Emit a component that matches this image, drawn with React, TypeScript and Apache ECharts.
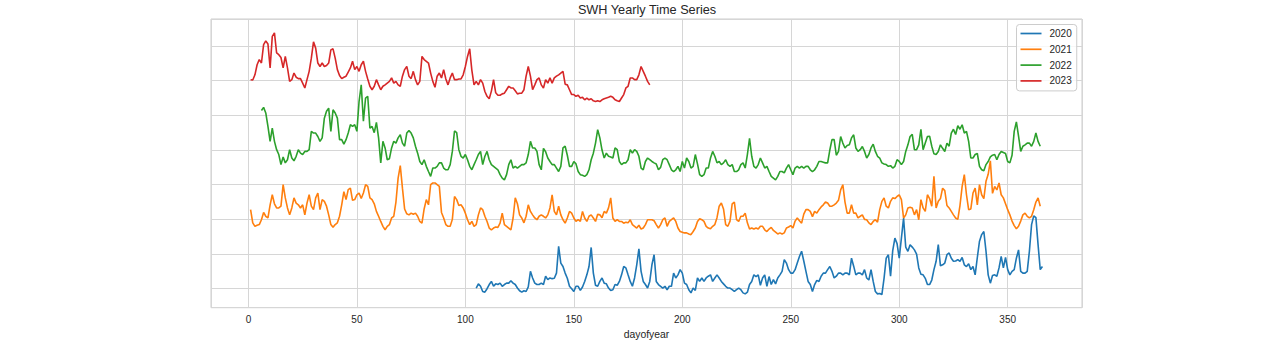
import React, { useEffect, useRef } from "react";
import * as echarts from "echarts";

// ---- data (values in plot units; day-of-year on x) ----
const years = ["2020", "2021", "2022", "2023"];
const colors = ["#1f77b4", "#ff7f0e", "#2ca02c", "#d62728"];
const xTickLabels = [0, 50, 100, 150, 200, 250, 300, 350];

const start2020 = 105;
const swh2020 = [
  0.02, 0.14, 0.07, -0.08, -0.10, 0.00, 0.12, 0.21, 0.07, 0.14,
  0.12, 0.16, 0.07, 0.12, 0.16, 0.16, 0.23, 0.16, 0.12, 0.02,
  -0.06, -0.10, -0.06, -0.08, 0.05, 0.50, 0.31, 0.16, 0.12, 0.12,
  0.16, 0.12, 0.36, 0.26, 0.31, 0.29, 0.30, 0.45, 1.22, 0.74,
  0.64, 0.45, 0.30, 0.07, 0.00, -0.08, 0.07, 0.07, -0.05, 0.05,
  0.21, 0.40, 0.64, 1.19, 0.45, 0.10, 0.07, 0.21, 0.31, 0.16,
  0.14, 0.02, -0.05, -0.03, 0.12, 0.10, 0.21, 0.40, 0.64, 0.60,
  0.40, 0.21, 0.07, 0.31, 0.69, 1.15, 0.50, 0.21, 0.12, 0.02,
  0.21, 0.69, 0.98, 0.21, 0.12, 0.07, 0.02, 0.07, -0.03, 0.07,
  0.07, 0.45, 0.31, 0.40, 0.55, 0.45, 0.16, 0.12, -0.03, -0.12,
  0.02, -0.05, 0.31, 0.21, 0.31, 0.21, 0.31, 0.36, 0.40, 0.21,
  0.31, 0.40, 0.31, 0.21, 0.14, 0.07, 0.02, 0.02, -0.03, -0.08,
  -0.03, 0.02, -0.03, -0.12, -0.15, -0.10, 0.12, 0.21, 0.40, 0.35,
  0.40, 0.10, 0.31, 0.40, 0.07, 0.35, 0.12, 0.26, 0.14, 0.31,
  0.40, 0.50, 0.84, 0.74, 0.55, 0.45, 0.45, 0.55, 0.74, 0.93,
  1.08, 0.80, 0.50, 0.21, 0.12, -0.08, 0.12, 0.24, 0.21, 0.36,
  0.45, 0.45, 0.55, 0.64, 0.50, 0.31, 0.36, 0.45, 0.45, 0.40,
  0.45, 0.45, 0.40, 0.88, 0.65, 0.40, 0.45, 0.45, 0.40, 0.55,
  0.31, 0.25, 0.55, 0.21, -0.08, -0.15, -0.14, -0.17, 0.30, 0.88,
  0.98, 0.36, 1.10, 1.46, 1.30, 0.88, 1.46, 2.04, 1.20, 1.08,
  1.27, 1.20, 1.12, 1.00, 0.60, 0.42, 0.40, 0.30, 0.12, 0.12,
  0.25, 0.55, 0.79, 1.27, 0.66, 0.69, 0.74, 0.98, 1.03, 0.88,
  0.79, 0.80, 0.84, 0.79, 0.90, 0.69, 0.64, 0.72, 0.55, 0.64,
  0.40, 0.90, 1.37, 1.56, 1.65, 1.08, 0.40, 0.16, 0.38, 0.40,
  0.36, 0.60, 0.93, 0.60, 0.90, 0.55, 0.40, 0.50, 0.55, 0.88,
  1.12, 0.50, 0.45, 0.45, 0.50, 1.08, 1.85, 2.10, 2.05, 1.27,
  0.55, 0.64,
];

const start2021 = 1;
const swh2021 = [
  2.28, 1.90, 1.80, 1.83, 1.85, 1.99, 2.20, 2.09, 2.04, 2.42,
  2.71, 2.45, 2.33, 2.33, 2.38, 3.00, 2.62, 2.33, 2.13, 2.33,
  2.62, 2.47, 2.42, 2.33, 2.42, 2.13, 2.47, 2.71, 2.38, 2.28,
  2.62, 2.76, 2.28, 2.57, 2.52, 2.38, 2.13, 1.85, 1.77, 1.85,
  1.90, 2.09, 2.42, 2.80, 2.57, 2.86, 2.90, 2.55, 2.57, 2.71,
  2.76, 2.60, 2.76, 3.00, 2.95, 2.62, 2.57, 2.45, 2.23, 2.09,
  1.94, 1.80, 1.70, 1.80, 1.85, 2.04, 2.09, 2.50, 3.19, 3.55,
  2.90, 2.30, 2.16, 2.13, 2.18, 2.15, 2.18, 2.09, 1.94, 1.89,
  2.30, 2.57, 2.42, 3.00, 3.05, 3.05, 3.00, 2.95, 2.20, 2.04,
  1.85, 1.80, 1.80, 2.00, 2.66, 2.57, 2.40, 2.42, 2.33, 2.18,
  1.99, 1.85, 1.94, 1.80, 1.85, 2.13, 2.33, 2.28, 2.09, 1.94,
  1.75, 1.70, 1.75, 1.78, 1.77, 1.89, 2.18, 1.85, 1.80, 1.75,
  1.70, 2.04, 2.62, 2.45, 2.13, 2.04, 1.90, 2.09, 2.42, 2.23,
  2.13, 2.04, 1.99, 2.09, 2.13, 2.09, 2.04, 2.13, 2.33, 2.71,
  2.23, 2.13, 2.38, 2.13, 1.99, 1.89, 2.04, 2.23, 2.18, 2.04,
  1.94, 1.99, 1.94, 2.23, 2.04, 1.94, 2.09, 2.13, 2.04, 1.94,
  2.15, 2.13, 2.05, 2.23, 2.18, 2.33, 2.62, 2.04, 1.94, 1.99,
  1.94, 1.94, 1.89, 1.92, 1.90, 1.99, 1.85, 1.80, 1.75, 1.83,
  1.72, 1.75, 1.85, 1.99, 1.99, 1.99, 1.96, 1.85, 1.75, 1.85,
  1.99, 2.04, 1.80, 1.94, 1.99, 2.04, 1.94, 1.75, 1.65, 1.63,
  1.61, 1.61, 1.58, 1.56, 1.65, 1.75, 1.94, 2.02, 1.99, 1.94,
  1.80, 1.75, 1.73, 1.80, 1.85, 2.05, 2.38, 2.47, 2.30, 1.85,
  1.80, 1.95, 2.45, 2.50, 1.99, 1.94, 2.09, 2.09, 2.18, 1.90,
  1.72, 1.75, 1.72, 1.75, 1.72, 1.80, 1.80, 1.70, 1.65, 1.72,
  1.77, 1.68, 1.63, 1.58, 1.61, 1.58, 1.61, 1.75, 1.78, 1.82,
  1.75, 1.95, 2.04, 1.96, 1.89, 2.15, 2.28, 2.28, 2.23, 2.08,
  2.23, 2.18, 2.28, 2.36, 2.42, 2.50, 2.47, 2.38, 2.38, 2.42,
  2.47, 2.55, 2.85, 3.00, 2.50, 2.18, 2.18, 2.42, 2.18, 2.18,
  2.04, 2.09, 2.13, 2.00, 1.99, 1.90, 1.85, 1.94, 1.99, 1.92,
  2.28, 2.52, 2.62, 2.38, 2.33, 2.52, 2.62, 2.60, 2.66, 2.71,
  2.57, 2.04, 2.13, 2.33, 2.35, 2.33, 2.13, 2.28, 1.99, 2.57,
  2.33, 2.23, 2.71, 2.60, 2.38, 3.24, 2.33, 2.52, 2.60, 2.90,
  2.83, 2.40, 2.33, 2.23, 2.13, 2.04, 2.00, 2.40, 2.95, 3.29,
  2.71, 2.28, 2.30, 2.76, 2.90, 2.42, 3.00, 2.71, 2.60, 3.10,
  3.30, 3.69, 2.75, 2.95, 2.85, 3.05, 2.71, 2.62, 2.45, 2.28,
  2.13, 1.95, 1.82, 1.73, 1.80, 1.95, 2.13, 2.18, 2.09, 2.04,
  2.09, 2.28, 2.50, 2.62, 2.38,
];

const start2022 = 6;
const swh2022 = [
  5.14, 5.23, 5.07, 4.68, 4.25, 4.63, 4.25, 4.01, 3.87, 3.58,
  3.80, 3.63, 3.72, 4.01, 3.77, 3.69, 3.82, 4.01, 3.91, 3.87,
  3.96, 3.96, 4.01, 4.54, 4.49, 4.49, 4.39, 4.25, 4.35, 4.92,
  5.12, 5.21, 4.54, 5.16, 5.07, 4.92, 4.30, 4.30, 4.17, 4.30,
  4.49, 4.73, 4.68, 4.73, 4.54, 5.40, 5.88, 4.83, 5.50, 5.55,
  4.63, 4.68, 4.50, 4.80, 4.35, 3.63, 4.25, 4.06, 3.72, 3.75,
  4.06, 4.25, 4.20, 4.35, 4.44, 4.20, 4.11, 4.49, 4.56, 4.49,
  4.35, 4.11, 3.91, 3.67, 3.58, 3.72, 3.53, 3.38, 3.24, 3.48,
  3.48, 3.53, 3.63, 3.63, 3.48, 3.43, 3.43, 3.58, 3.96, 4.55,
  4.50, 4.01, 3.82, 3.77, 3.87, 3.72, 3.53, 3.43, 3.58, 3.72,
  3.87, 3.96, 3.58, 3.82, 3.96, 3.72, 3.58, 3.53, 3.48, 3.43,
  3.29, 3.19, 3.14, 3.29, 3.58, 3.72, 3.48, 3.53, 3.48, 3.53,
  3.58, 3.58, 3.63, 3.87, 4.25, 4.06, 4.06, 3.96, 3.58, 3.43,
  4.05, 3.95, 3.77, 3.67, 3.58, 3.58, 3.48, 3.38, 3.53, 4.06,
  4.11, 3.85, 3.53, 3.53, 3.67, 3.60, 3.38, 3.29, 3.27, 3.24,
  3.29, 3.43, 3.72, 3.91, 4.20, 4.59, 4.35, 4.00, 3.77, 3.91,
  3.82, 3.80, 3.77, 4.06, 4.01, 3.67, 3.58, 3.63, 3.63, 3.72,
  4.01, 3.91, 4.01, 3.96, 3.82, 3.48, 3.43, 3.67, 3.77, 3.72,
  3.67, 3.63, 3.60, 3.43, 3.50, 3.72, 3.77, 3.72, 3.58, 3.43,
  3.38, 3.43, 3.53, 3.38, 3.67, 3.48, 3.77, 3.67, 3.48, 3.53,
  3.87, 3.60, 3.29, 3.24, 3.29, 3.48, 3.48, 3.77, 3.96, 3.82,
  3.63, 3.67, 3.58, 3.63, 3.72, 3.58, 3.53, 3.58, 3.38, 3.38,
  3.43, 3.58, 3.63, 3.48, 3.87, 4.34, 3.82, 3.53, 3.48, 3.58,
  3.77, 3.63, 3.48, 3.53, 3.38, 3.24, 3.19, 3.14, 3.24, 3.38,
  3.38, 3.34, 3.48, 3.58, 3.43, 3.29, 3.48, 3.53, 3.48, 3.53,
  3.48, 3.53, 3.53, 3.43, 3.38, 3.43, 3.53, 3.67, 3.67, 3.65,
  3.63, 3.63, 4.00, 4.30, 4.30, 3.85, 3.96, 4.39, 4.20, 4.06,
  4.13, 4.15, 4.35, 4.44, 4.06, 3.96, 4.01, 4.10, 3.96, 3.77,
  3.87, 4.06, 4.17, 3.96, 3.82, 3.77, 3.63, 3.60, 3.58, 3.53,
  3.55, 3.48, 3.53, 3.72, 3.67, 3.58, 3.67, 3.96, 4.15, 4.39,
  4.45, 4.01, 4.01, 4.15, 4.60, 4.01, 4.20, 4.39, 4.40, 4.11,
  3.89, 3.87, 3.96, 4.15, 4.05, 3.96, 4.20, 4.11, 4.49, 4.60,
  4.45, 4.70, 4.60, 4.73, 4.49, 4.54, 4.25, 3.77, 3.77, 3.87,
  3.90, 3.53, 3.43, 3.40, 3.58, 3.67, 3.80, 3.85, 3.87, 3.72,
  3.87, 3.96, 3.93, 3.90, 3.67, 3.63, 3.85, 4.54, 4.81, 4.40,
  3.96, 4.11, 4.15, 4.20, 4.20, 4.11, 4.25, 4.49, 4.25, 4.11,
];

const start2023 = 1;
const swh2023 = [
  6.03, 6.02, 6.17, 6.46, 6.61, 6.51, 7.04, 7.15, 7.06, 6.37,
  7.28, 7.38, 6.80, 6.75, 6.67, 6.37, 6.70, 6.37, 5.98, 6.03,
  6.22, 6.10, 6.06, 6.06, 5.93, 5.79, 6.03, 6.27, 6.65, 7.12,
  6.94, 6.51, 6.41, 6.51, 6.41, 6.44, 6.51, 6.89, 6.92, 6.65,
  6.32, 6.15, 6.06, 6.10, 6.13, 6.25, 6.37, 6.56, 6.32, 6.41,
  6.27, 6.46, 6.56, 6.27, 6.05, 5.84, 5.74, 5.84, 6.03, 5.88,
  5.74, 5.84, 5.88, 5.93, 5.98, 6.08, 5.93, 5.98, 5.88, 5.84,
  6.13, 6.32, 6.41, 6.13, 6.06, 6.27, 6.03, 5.88, 5.98, 6.70,
  6.61, 6.56, 6.51, 6.22, 5.98, 5.81, 6.13, 6.22, 6.08, 6.32,
  6.05, 5.88, 6.08, 6.22, 6.03, 6.03, 6.05, 6.05, 6.17, 6.41,
  6.70, 6.92, 6.30, 5.88, 5.98, 5.88, 6.03, 5.93, 5.69, 5.55,
  5.48, 5.70, 6.03, 5.65, 5.58, 5.58, 5.62, 5.64, 5.74, 5.84,
  5.79, 5.79, 5.71, 5.62, 5.64, 5.64, 5.74, 6.13, 6.41, 6.13,
  5.74, 5.88, 6.03, 6.08, 5.88, 5.79, 6.03, 5.93, 6.08, 5.93,
  6.08, 6.13, 6.17, 6.22, 6.27, 5.90, 5.88, 5.74, 5.60, 5.60,
  5.55, 5.58, 5.50, 5.52, 5.45, 5.50, 5.45, 5.48, 5.42, 5.40,
  5.42, 5.40, 5.45, 5.48, 5.50, 5.52, 5.55, 5.52, 5.45, 5.42,
  5.40, 5.50, 5.60, 5.79, 5.84, 6.08, 6.08, 6.03, 6.03, 6.17,
  6.41, 6.27, 6.13, 5.98, 5.88,
];

const seriesStarts = [start2020, start2021, start2022, start2023];
const seriesValues = [swh2020, swh2021, swh2022, swh2023];

const FONT = "'Liberation Sans', Arial, Helvetica, sans-serif";
const TEXT = "#262626";
const GRID = "#d6d6d6";

function toPairs(start: number, vals: number[]) {
  return vals.map((v, i) => [start + i, v]);
}

export default function App() {
  const ref = useRef<HTMLDivElement>(null);
  useEffect(() => {
    if (!ref.current) return;
    const chart = echarts.init(ref.current, null, { renderer: "svg" });
    const option: any = {
      animation: false,
      backgroundColor: "#ffffff",
      textStyle: { fontFamily: FONT, color: TEXT },
      grid: {
        left: 211,
        top: 19,
        width: 871,
        height: 288.7,
        show: true,
        borderColor: "#cccccc",
        borderWidth: 1,
        backgroundColor: "transparent",
        containLabel: false,
        outerBoundsMode: "none",
      },
      xAxis: {
        type: "value",
        min: -17.25,
        max: 384.25,
        splitNumber: 8,
        axisLine: { show: false },
        axisTick: { show: false },
        splitLine: { show: true, lineStyle: { color: GRID, width: 1 } },
        axisLabel: {
          show: true,
          margin: 7,
          color: TEXT,
          fontSize: 10,
          lineHeight: 10,
          fontFamily: FONT,
          showMinLabel: false,
          showMaxLabel: false,
          formatter: (v: number) => (xTickLabels.indexOf(v) >= 0 ? String(v) : ""),
        },
        name: "dayofyear",
        nameLocation: "middle",
        nameGap: 22,
        nameTextStyle: { color: TEXT, fontSize: 10.4, lineHeight: 10, fontFamily: FONT },
      },
      yAxis: {
        type: "value",
        min: -0.548,
        max: 7.78,
        splitNumber: 8,
        axisLine: { show: false },
        axisTick: { show: false },
        axisLabel: { show: false },
        splitLine: { show: true, lineStyle: { color: GRID, width: 1 } },
      },
      legend: {
        show: true,
        orient: "vertical",
        left: 1016.5,
        top: 24.5,
        padding: [3, 5, 4, 4],
        icon: "rect",
        itemWidth: 21,
        itemHeight: 1.7,
        itemGap: 3.8,
        backgroundColor: "rgba(255,255,255,0.8)",
        borderColor: "#cccccc",
        borderWidth: 1,
        borderRadius: 3,
        textStyle: { color: TEXT, fontSize: 10, lineHeight: 12, fontFamily: FONT, padding: [0, 0, 0, 3] },
        data: years.map((y, i) => ({ name: y, icon: "rect", itemStyle: { color: colors[i], borderWidth: 0 } })),
      },
      series: years.map((y, i) => ({
        name: y,
        type: "line",
        data: toPairs(seriesStarts[i], seriesValues[i]),
        showSymbol: false,
        symbol: "none",
        color: colors[i],
        lineStyle: { color: colors[i], width: 1.6 },
        itemStyle: { color: colors[i] },
        z: 2 + i,
      })),
      graphic: [
        {
          type: "text",
          x: 647,
          y: 10.3,
          silent: true,
          style: {
            text: "SWH Yearly Time Series",
            fontSize: 12.7,
            fontFamily: FONT,
            fill: TEXT,
            align: "center",
            verticalAlign: "middle",
            textAlign: "center",
            textVerticalAlign: "middle",
          },
        },
      ],
    };
    chart.setOption(option);
    return () => chart.dispose();
  }, []);
  return (
    <div
      ref={ref}
      style={{ position: "fixed", left: 0, top: 0, width: 1279, height: 348, background: "#ffffff" }}
    />
  );
}
